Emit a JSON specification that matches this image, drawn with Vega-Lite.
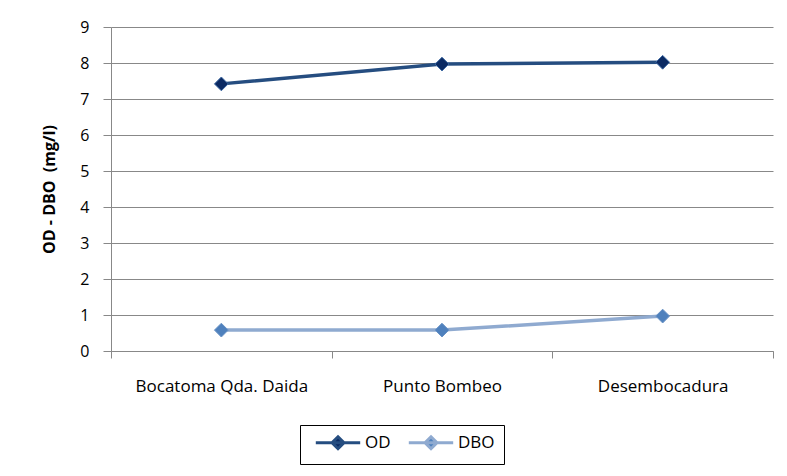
{
  "$schema": "https://vega.github.io/schema/vega-lite/v6.json",
  "width": 662,
  "height": 324,
  "autosize": {"type": "none"},
  "padding": {"left": 111, "top": 27, "right": 14, "bottom": 125},
  "background": "white",
  "config": {
    "font": "Open Sans",
    "view": {"stroke": null},
    "axis": {"labelFont": "Open Sans", "titleFont": "Open Sans"}
  },
  "data": {
    "values": [
      {"sitio": "Bocatoma Qda. Daida", "serie": "OD", "valor": 7.42},
      {"sitio": "Punto Bombeo", "serie": "OD", "valor": 7.97},
      {"sitio": "Desembocadura", "serie": "OD", "valor": 8.02},
      {"sitio": "Bocatoma Qda. Daida", "serie": "DBO", "valor": 0.58},
      {"sitio": "Punto Bombeo", "serie": "DBO", "valor": 0.58},
      {"sitio": "Desembocadura", "serie": "DBO", "valor": 0.97}
    ]
  },
  "encoding": {
    "x": {
      "field": "sitio",
      "type": "nominal",
      "sort": ["Bocatoma Qda. Daida", "Punto Bombeo", "Desembocadura"],
      "scale": {"type": "band", "paddingInner": 0, "paddingOuter": 0},
      "axis": {
        "title": null,
        "labelAngle": 0,
        "labelFontSize": 17,
        "labelColor": "#000000",
        "labelPadding": 20,
        "tickBand": "extent",
        "tickSize": 7,
        "tickColor": "#888888",
        "domainColor": "#888888",
        "grid": false
      }
    },
    "y": {
      "field": "valor",
      "type": "quantitative",
      "scale": {"domain": [0, 9], "nice": false},
      "axis": {
        "title": "OD - DBO\u00a0\u00a0(mg/l)",
        "titleFontSize": 16,
        "titleFontWeight": "bold",
        "titleColor": "#000000",
        "titlePadding": 22,
        "values": [0, 1, 2, 3, 4, 5, 6, 7, 8, 9],
        "labelFontSize": 16,
        "labelColor": "#000000",
        "labelPadding": 14,
        "tickSize": 8,
        "tickColor": "#888888",
        "domainColor": "#888888",
        "grid": true,
        "gridColor": "#888888",
        "gridWidth": 1
      }
    }
  },
  "layer": [
    {
      "mark": {"type": "line", "strokeWidth": 3.5},
      "encoding": {
        "color": {
          "field": "serie",
          "type": "nominal",
          "scale": {"domain": ["OD", "DBO"], "range": ["#254D80", "#8FAAD0"]},
          "legend": {
            "title": null,
            "orient": "none",
            "legendX": 189,
            "legendY": 398,
            "direction": "horizontal",
            "strokeColor": "#000000",
            "fillColor": "white",
            "padding": 9,
            "labelFontSize": 17,
            "labelColor": "#000000",
            "symbolType": "M-3.7,0H3.7M0,-1L1,0L0,1L-1,0Z",
            "symbolSize": 144,
            "symbolStrokeWidth": 3,
            "labelOffset": 39,
            "columnPadding": 11,
            "offset": 0,
            "encode": {
              "symbols": {
                "update": {
                  "fill": {"signal": "datum.value === 'OD' ? '#0B2A63' : '#4F81BD'"},
                  "stroke": {"signal": "datum.value === 'OD' ? '#254D80' : '#8FAAD0'"},
                  "x": {"value": 29}
                }
              }
            }
          }
        }
      }
    },
    {
      "mark": {"type": "point", "shape": "diamond", "filled": true, "size": 190, "strokeWidth": 1, "opacity": 1},
      "encoding": {
        "fill": {
          "field": "serie",
          "type": "nominal",
          "scale": {"domain": ["OD", "DBO"], "range": ["#0B2A63", "#4F81BD"]},
          "legend": null
        },
        "stroke": {
          "field": "serie",
          "type": "nominal",
          "scale": {"domain": ["OD", "DBO"], "range": ["#3D69A3", "#6A93C6"]},
          "legend": null
        }
      }
    }
  ]
}
